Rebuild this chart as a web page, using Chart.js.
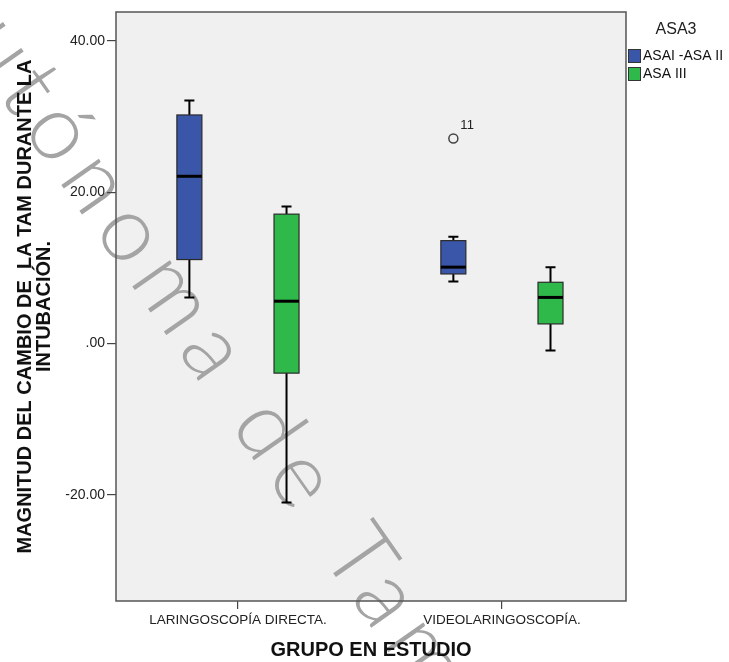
<!DOCTYPE html>
<html>
<head>
<meta charset="utf-8">
<script src="https://cdn.jsdelivr.net/npm/chart.js@4.4.1/dist/chart.umd.min.js"></script>
<style>
html,body{margin:0;padding:0;background:#fff;}
#wrap{width:729px;height:662px;position:relative;}
canvas{display:block;}
</style>
</head>
<body>
<div id="wrap"><canvas id="c" width="729" height="662"></canvas></div>
<script>
// ---- data ----
const categories = ['LARINGOSCOPÍA DIRECTA.', 'VIDEOLARINGOSCOPÍA.'];
const seriesNames = ['ASAI -ASA II', 'ASA III'];
const legendTitle = 'ASA3';

// ASAI - ASA II
const asa12Min    = [6.1, 8.2];
const asa12Q1     = [11.1, 9.2];
const asa12Median = [22.1, 10.1];
const asa12Q3     = [30.2, 13.6];
const asa12Max    = [32.1, 14.1];

// ASA III
const asa3Min    = [-21.0, -0.9];
const asa3Q1     = [-3.9, 2.6];
const asa3Median = [5.6, 6.1];
const asa3Q3     = [17.1, 8.1];
const asa3Max    = [18.1, 10.1];

// outliers
const outlierCategory = [1];
const outlierSeries   = [0];
const outlierValue    = [27.1];
const outlierLabel    = ['11'];

const yTickValues = [-20, 0, 20, 40];
const yTickLabels = ['-20.00', '.00', '20.00', '40.00'];

const xTitle = 'GRUPO EN ESTUDIO';
const yTitle = ['MAGNITUD DEL CAMBIO DE  LA TAM DURANTE LA', 'INTUBACIÓN.'];
const watermarkText = 'Universidad Autónoma de Tamaulipas';

// ---- styling ----
const seriesColors = ['#3a56a9', '#2fb94a'];
const groupOffset = 0.184;
const boxWidthPx = 25;
const capWidthPx = 10;
const FONT = '"Liberation Sans", Arial, sans-serif';

const boxStats = [
  {min: asa12Min, q1: asa12Q1, med: asa12Median, q3: asa12Q3, max: asa12Max},
  {min: asa3Min,  q1: asa3Q1,  med: asa3Median,  q3: asa3Q3,  max: asa3Max}
];
const xPos = (ci, si) => ci + (si === 0 ? -groupOffset : groupOffset);

const outlierData = outlierValue.map((v, i) => ({x: xPos(outlierCategory[i], outlierSeries[i]), y: v}));

const backgroundPlugin = {
  id: 'bg',
  beforeDraw(chart) {
    const {ctx, chartArea: a} = chart;
    ctx.save();
    ctx.fillStyle = '#ffffff';
    ctx.fillRect(0, 0, chart.width, chart.height);
    ctx.fillStyle = '#f0f0f0';
    ctx.fillRect(a.left, a.top, a.right - a.left, a.bottom - a.top);
    // watermark
    ctx.font = '300 92px Lato, "Open Sans", sans-serif';
    try { ctx.letterSpacing = '11px'; } catch (e) {}
    const idx = watermarkText.indexOf(' T') + 1;
    const pre = ctx.measureText(watermarkText.slice(0, idx)).width;
    const tw = ctx.measureText('T').width;
    ctx.translate(333, 573);
    ctx.rotate(55 * Math.PI / 180);
    ctx.fillStyle = '#a4a4a4';
    ctx.textBaseline = 'alphabetic';
    ctx.textAlign = 'left';
    ctx.fillText(watermarkText, -(pre + tw / 2) + 8, 0);
    ctx.restore();
  }
};

const boxPlugin = {
  id: 'boxes',
  beforeDatasetsDraw(chart) {
    const {ctx} = chart;
    const xs = chart.scales.x, ys = chart.scales.y;
    ctx.save();
    boxStats.forEach((s, si) => {
      categories.forEach((c, ci) => {
        const cx = xs.getPixelForValue(xPos(ci, si));
        const yMin = ys.getPixelForValue(s.min[ci]);
        const yQ1 = ys.getPixelForValue(s.q1[ci]);
        const yMed = ys.getPixelForValue(s.med[ci]);
        const yQ3 = ys.getPixelForValue(s.q3[ci]);
        const yMax = ys.getPixelForValue(s.max[ci]);
        // whiskers
        ctx.strokeStyle = '#000';
        ctx.lineWidth = 2;
        ctx.beginPath();
        ctx.moveTo(cx, yQ3); ctx.lineTo(cx, yMax);
        ctx.moveTo(cx - capWidthPx / 2, yMax); ctx.lineTo(cx + capWidthPx / 2, yMax);
        ctx.moveTo(cx, yQ1); ctx.lineTo(cx, yMin);
        ctx.moveTo(cx - capWidthPx / 2, yMin); ctx.lineTo(cx + capWidthPx / 2, yMin);
        ctx.stroke();
        // box
        ctx.fillStyle = seriesColors[si];
        ctx.fillRect(cx - boxWidthPx / 2, yQ3, boxWidthPx, yQ1 - yQ3);
        ctx.strokeStyle = '#2a2a2a';
        ctx.lineWidth = 1.2;
        ctx.strokeRect(cx - boxWidthPx / 2, yQ3, boxWidthPx, yQ1 - yQ3);
        // median
        ctx.strokeStyle = '#000';
        ctx.lineWidth = 3;
        ctx.beginPath();
        ctx.moveTo(cx - boxWidthPx / 2, yMed); ctx.lineTo(cx + boxWidthPx / 2, yMed);
        ctx.stroke();
      });
    });
    ctx.restore();
  },
  afterDatasetsDraw(chart) {
    const {ctx} = chart;
    const meta = chart.getDatasetMeta(0);
    ctx.save();
    ctx.font = '13px ' + FONT;
    ctx.fillStyle = '#222';
    ctx.textAlign = 'left';
    ctx.textBaseline = 'middle';
    meta.data.forEach((pt, i) => {
      ctx.fillText(outlierLabel[i], pt.x + 7, pt.y - 13);
    });
    ctx.restore();
  },
  afterDraw(chart) {
    const {ctx, chartArea: a} = chart;
    ctx.save();
    ctx.strokeStyle = '#555';
    ctx.lineWidth = 1.5;
    ctx.strokeRect(a.left, a.top, a.right - a.left, a.bottom - a.top);
    // legend
    ctx.fillStyle = '#222';
    ctx.font = '16px ' + FONT;
    ctx.textAlign = 'center';
    ctx.textBaseline = 'middle';
    ctx.fillText(legendTitle, 676, 30);
    ctx.font = '14px ' + FONT;
    ctx.textAlign = 'left';
    seriesNames.forEach((n, i) => {
      const y = 49 + i * 18;
      ctx.fillStyle = seriesColors[i];
      ctx.fillRect(628, y, 12, 13);
      ctx.strokeStyle = '#333';
      ctx.lineWidth = 1;
      ctx.strokeRect(628.5, y + 0.5, 12, 13);
      ctx.fillStyle = '#111';
      ctx.fillText(n, 643, y + 7);
    });
    ctx.restore();
  }
};

new Chart(document.getElementById('c'), {
  type: 'scatter',
  data: {
    datasets: [{
      label: 'outliers',
      data: outlierData,
      pointStyle: 'circle',
      pointRadius: 4.5,
      pointHoverRadius: 4.5,
      borderColor: '#444',
      borderWidth: 1.5,
      backgroundColor: 'rgba(0,0,0,0)'
    }]
  },
  options: {
    responsive: false,
    animation: false,
    events: [],
    layout: {padding: {top: 12, right: 103, left: 0, bottom: 0}},
    plugins: {legend: {display: false}, tooltip: {enabled: false}},
    scales: {
      x: {
        type: 'linear',
        min: -0.462,
        max: 1.470,
        afterBuildTicks: s => { s.ticks = categories.map((c, i) => ({value: i})); },
        afterFit: s => { s.height = 61; },
        ticks: {
          callback: (v) => categories[Math.round(v)],
          font: {family: FONT, size: 13.5},
          color: '#222',
          padding: 3,
          maxRotation: 0,
          autoSkip: false
        },
        grid: {display: true, drawOnChartArea: false, drawTicks: true, tickLength: 8, color: '#444', lineWidth: 1.2},
        border: {display: false},
        title: {
          display: true,
          text: xTitle,
          font: {family: FONT, size: 20, weight: 'bold'},
          color: '#111',
          padding: {top: 0, bottom: 0}
        }
      },
      y: {
        type: 'linear',
        min: -34,
        max: 43.8,
        afterBuildTicks: s => { s.ticks = yTickValues.map(v => ({value: v})); },
        afterFit: s => { s.width = 116; },
        ticks: {
          callback: (v) => yTickLabels[yTickValues.indexOf(v)],
          font: {family: FONT, size: 14},
          color: '#222',
          padding: 2
        },
        grid: {display: true, drawOnChartArea: false, drawTicks: true, tickLength: 9, color: '#444', lineWidth: 1.2},
        border: {display: false},
        title: {
          display: true,
          text: yTitle,
          font: {family: FONT, size: 20, weight: 'bold', lineHeight: 0.95},
          color: '#111',
          padding: {top: 16, bottom: 0}
        }
      }
    }
  },
  plugins: [backgroundPlugin, boxPlugin]
});
</script>
</body>
</html>
